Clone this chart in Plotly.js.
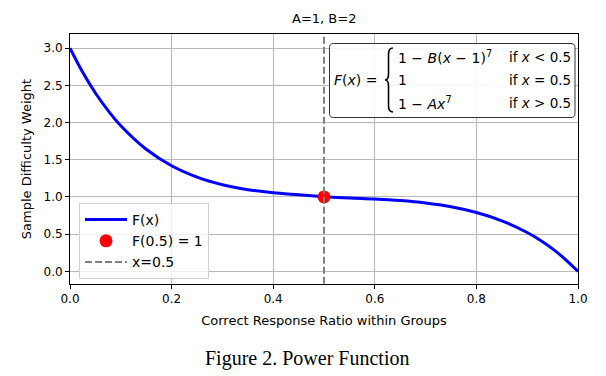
<!DOCTYPE html>
<html>
<head>
<meta charset="utf-8">
<script src="https://cdn.plot.ly/plotly-3.0.1.min.js"></script>
<style>html,body{margin:0;padding:0;background:#fff;}#chart{width:606px;height:376px;}</style>
</head>
<body>
<div id="chart"></div>
<script>
// Curve samples
const xVals = [0, 0.025, 0.05, 0.075, 0.1, 0.15, 0.2, 0.25, 0.3, 0.35, 0.4, 0.45, 0.5, 0.55, 0.6, 0.65, 0.7, 0.75, 0.8, 0.85, 0.9, 0.925, 0.95, 0.975, 1.0];
const yVals = [3.0, 2.675, 2.397, 2.161, 1.957, 1.641, 1.419, 1.267, 1.165, 1.098, 1.056, 1.030, 1.004, 0.985, 0.972, 0.951, 0.918, 0.867, 0.790, 0.679, 0.522, 0.421, 0.302, 0.162, 0.0];
const pointX = [0.5];
const pointY = [1.0];
const vlineX = [0.5, 0.5];
const vlineY = [-0.3, 3.4];
const xTicks = [0.0, 0.2, 0.4, 0.6, 0.8, 1.0];
const yTicks = [0.0, 0.5, 1.0, 1.5, 2.0, 2.5, 3.0];

const L = 70, T = 34, W = 508, H = 250;
const px = x => ((x - L) / W).toFixed(4);
const py = y => ((T + H - y) / H).toFixed(4);

const font = "DejaVu Sans, sans-serif";

const traces = [
  {x: xVals, y: yVals, mode: 'lines', name: 'F(x)', line: {color: '#0000ff', width: 3, shape: 'spline', smoothing: 0.8}},
  {x: pointX, y: pointY, mode: 'markers', name: 'F(0.5) = 1', marker: {color: '#ff0000', size: 13}},
  {x: vlineX, y: vlineY, mode: 'lines', name: 'x=0.5', line: {color: '#808080', width: 2, dash: '7px,3px'}}
];

function roundRect(x0, y0, x1, y1, r) {
  return `M${px(x0+r)},${py(y0)} L${px(x1-r)},${py(y0)} Q${px(x1)},${py(y0)} ${px(x1)},${py(y0+r)} ` +
         `L${px(x1)},${py(y1-r)} Q${px(x1)},${py(y1)} ${px(x1-r)},${py(y1)} L${px(x0+r)},${py(y1)} ` +
         `Q${px(x0)},${py(y1)} ${px(x0)},${py(y1-r)} L${px(x0)},${py(y0+r)} Q${px(x0)},${py(y0)} ${px(x0+r)},${py(y0)} Z`;
}
const brace = `M${px(393)},${py(48)} Q${px(388.5)},${py(48)} ${px(388.5)},${py(54)} L${px(388.5)},${py(74)} ` +
              `Q${px(388.5)},${py(80)} ${px(385)},${py(80)} Q${px(388.5)},${py(80)} ${px(388.5)},${py(86)} ` +
              `L${px(388.5)},${py(106)} Q${px(388.5)},${py(112)} ${px(393)},${py(112)}`;

const ann = (x, y, text, opts = {}) => Object.assign({
  xref: 'paper', yref: 'paper', x: px(x), y: py(y), text: text, showarrow: false,
  xanchor: 'left', yanchor: 'middle', font: {family: font, size: 14, color: '#000'}
}, opts);

const layout = {
  width: 606, height: 376,
  margin: {l: L, r: 606 - L - W, t: T, b: 376 - T - H},
  paper_bgcolor: '#fff', plot_bgcolor: '#fff',
  showlegend: true,
  legend: {x: px(79), y: py(203), xanchor: 'left', yanchor: 'top', itemwidth: 42,
           bgcolor: 'rgba(255,255,255,0.8)', bordercolor: '#d0d0d0', borderwidth: 1,
           font: {family: font, size: 14, color: '#000'}},
  xaxis: {range: [0, 1], tickvals: xTicks, tickformat: '.1f', showgrid: true, gridcolor: '#b8b8b8', gridwidth: 1,
          zeroline: false, showline: true, linecolor: '#000', linewidth: 1, mirror: true,
          ticks: 'outside', ticklen: 4, tickcolor: '#000',
          tickfont: {family: font, size: 12, color: '#000'},
          title: {text: 'Correct Response Ratio within Groups', font: {family: font, size: 13, color: '#000'}, standoff: 10}},
  yaxis: {range: [-0.17, 3.19], tickvals: yTicks, tickformat: '.1f', showgrid: true, gridcolor: '#b8b8b8', gridwidth: 1,
          zeroline: false, showline: true, linecolor: '#000', linewidth: 1, mirror: true,
          ticks: 'outside', ticklen: 4, tickcolor: '#000',
          tickfont: {family: font, size: 12, color: '#000'},
          title: {text: 'Sample Difficulty Weight', font: {family: font, size: 13, color: '#000'}, standoff: 8}},
  shapes: [
    {type: 'path', xref: 'paper', yref: 'paper', path: roundRect(329.5, 43.5, 575, 117.5, 4),
     line: {color: '#333', width: 1}, fillcolor: 'rgba(255,255,255,0.9)', layer: 'above'},
    {type: 'path', xref: 'paper', yref: 'paper', path: brace, line: {color: '#000', width: 1.6}, layer: 'above'}
  ],
  annotations: [
    ann(324, 19, 'A=1, B=2', {xanchor: 'center', font: {family: font, size: 13, color: '#000'}}),
    ann(332, 80, '<i>F</i>(<i>x</i>) ='),
    ann(396, 57, '1 − <i>B</i>(<i>x</i> − 1)<sup>7</sup>'),
    ann(396, 80, '1'),
    ann(396, 103, '1 − <i>Ax</i><sup>7</sup>'),
    ann(507, 57, 'if <i>x</i> < 0.5', {font: {family: font, size: 13.5, color: '#000'}}),
    ann(507, 80, 'if <i>x</i> = 0.5', {font: {family: font, size: 13.5, color: '#000'}}),
    ann(507, 103, 'if <i>x</i> > 0.5', {font: {family: font, size: 13.5, color: '#000'}}),
    ann(307, 358, 'Figure 2. Power Function', {xanchor: 'center', font: {family: 'Liberation Serif, serif', size: 20, color: '#000'}})
  ]
};

Plotly.newPlot('chart', traces, layout, {displayModeBar: false, staticPlot: true});
</script>
</body>
</html>
